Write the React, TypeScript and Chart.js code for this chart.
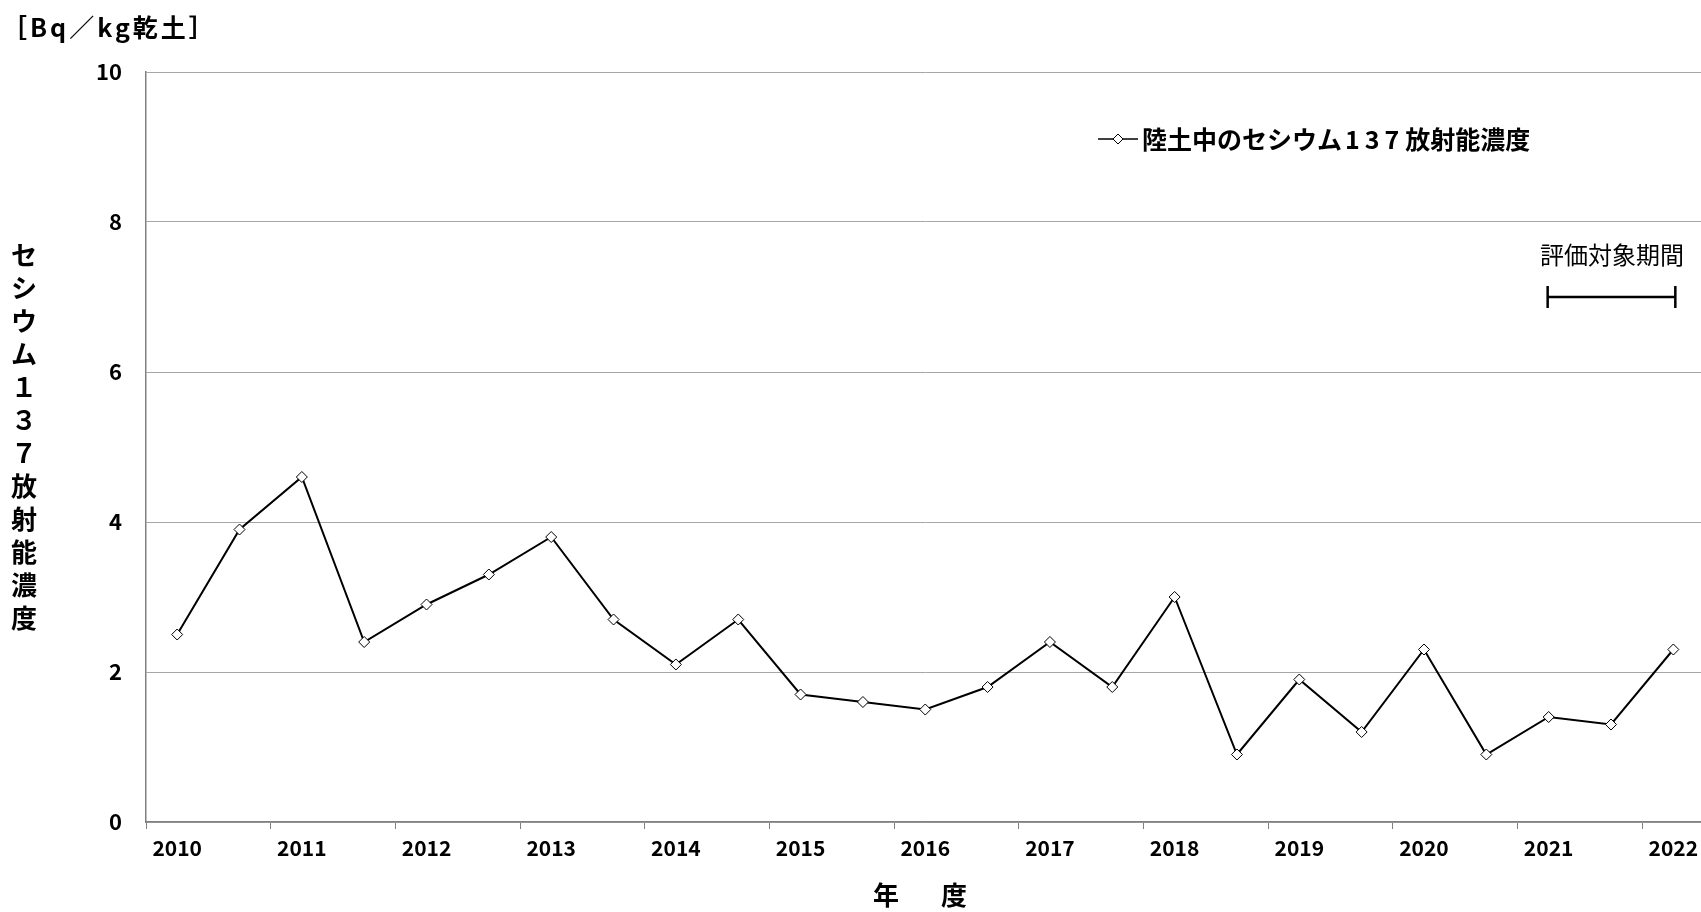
import React, { useEffect, useRef } from "react";
import { Chart, registerables } from "chart.js";

Chart.register(...registerables);

const categories = [
  "2010", "", "2011", "", "2012", "", "2013", "", "2014", "", "2015", "", "2016", "",
  "2017", "", "2018", "", "2019", "", "2020", "", "2021", "", "2022",
];
const cesiumValues = [
  2.5, 3.9, 4.6, 2.4, 2.9, 3.3, 3.8, 2.7, 2.1, 2.7, 1.7, 1.6, 1.5, 1.8, 2.4, 1.8, 3.0,
  0.9, 1.9, 1.2, 2.3, 0.9, 1.4, 1.3, 2.3,
];
const seriesLabel = "陸土中のセシウム137放射能濃度";
const legendParts = ["陸土中のセシウム", "137", "放射能濃度"];
const unitLabel = "［Bq／kg乾土］";
const yTitleChars = ["セ", "シ", "ウ", "ム", "１", "３", "７", "放", "射", "能", "濃", "度"];
const xTitleChars = ["年", "度"];
const periodLabel = "評価対象期間";
const periodStartIndex = 22;
const periodEndIndex = 24;
const periodLevel = 7;

const FONT = '"Noto Sans CJK JP", "Noto Sans", sans-serif';

const textPlugin = {
  id: "textPlugin",
  afterDraw(chart: any) {
    const ctx = chart.ctx;
    const xs = chart.scales.x;
    const ys = chart.scales.y;
    ctx.save();
    ctx.fillStyle = "#000";
    ctx.font = `bold 25px ${FONT}`;
    ctx.textAlign = "left";
    ctx.textBaseline = "middle";
    (ctx as any).letterSpacing = "3px";
    ctx.fillText(unitLabel, 2, 27);
    (ctx as any).letterSpacing = "0px";
    ctx.font = `bold 26px ${FONT}`;
    ctx.textAlign = "center";
    yTitleChars.forEach((c, i) => ctx.fillText(c, 24, 255 + i * 33));
    const cx = 920;
    ctx.fillText(xTitleChars[0], cx - 34, 895);
    ctx.fillText(xTitleChars[1], cx + 34, 895);
    const ly = 139;
    ctx.strokeStyle = "#000";
    ctx.lineWidth = 1.5;
    ctx.beginPath();
    ctx.moveTo(1098, ly);
    ctx.lineTo(1138, ly);
    ctx.stroke();
    ctx.beginPath();
    ctx.moveTo(1118, ly - 5);
    ctx.lineTo(1123, ly);
    ctx.lineTo(1118, ly + 5);
    ctx.lineTo(1113, ly);
    ctx.closePath();
    ctx.fillStyle = "#fff";
    ctx.fill();
    ctx.lineWidth = 1;
    ctx.stroke();
    ctx.fillStyle = "#000";
    ctx.font = `bold 25px ${FONT}`;
    ctx.textAlign = "left";
    let lx = 1142;
    ctx.fillText(legendParts[0], lx, ly);
    lx += ctx.measureText(legendParts[0]).width + 3;
    (ctx as any).letterSpacing = "5px";
    ctx.fillText(legendParts[1], lx, ly);
    lx += ctx.measureText(legendParts[1]).width + 1;
    (ctx as any).letterSpacing = "0px";
    ctx.fillText(legendParts[2], lx, ly);
    const x1 = xs.getPixelForValue(periodStartIndex);
    const x2 = xs.getPixelForValue(periodEndIndex);
    const by = ys.getPixelForValue(periodLevel);
    ctx.lineWidth = 2.5;
    ctx.beginPath();
    ctx.moveTo(x1 - 1, by);
    ctx.lineTo(x2 + 2, by);
    ctx.moveTo(x1 - 1, by - 11);
    ctx.lineTo(x1 - 1, by + 11);
    ctx.moveTo(x2 + 2, by - 11);
    ctx.lineTo(x2 + 2, by + 11);
    ctx.stroke();
    ctx.font = `24px ${FONT}`;
    ctx.textAlign = "center";
    ctx.fillText(periodLabel, (x1 + x2) / 2 + 1, by - 42);
    ctx.restore();
  },
};

export default function App() {
  const ref = useRef<HTMLCanvasElement>(null);
  useEffect(() => {
    if (!ref.current) return;
    const chart = new Chart(ref.current, {
      type: "line",
      data: {
        labels: categories,
        datasets: [
          {
            label: seriesLabel,
            data: cesiumValues,
            borderColor: "#000",
            borderWidth: 2,
            backgroundColor: "#fff",
            pointStyle: "rectRot",
            pointRadius: 5.5,
            pointBorderWidth: 1,
            pointBorderColor: "#000",
            pointBackgroundColor: "#fff",
            tension: 0,
          },
        ],
      },
      options: {
        responsive: false,
        animation: false,
        devicePixelRatio: 1,
        layout: { padding: { top: 72, left: 0, right: 0, bottom: 0 } },
        plugins: {
          legend: { display: false },
          tooltip: { enabled: false },
          title: { display: false },
        },
        scales: {
          x: {
            type: "category",
            offset: true,
            grid: {
              offset: true,
              drawOnChartArea: false,
              drawTicks: true,
              tickLength: 7,
              color: (c: any) => (c.index % 2 === 0 ? "#808080" : "rgba(0,0,0,0)"),
            },
            border: { display: true, color: "#808080", width: 1.5 },
            ticks: {
              autoSkip: false,
              maxRotation: 0,
              minRotation: 0,
              color: "#000",
              padding: 6,
              font: { family: FONT, size: 21, weight: "bold" },
            },
            afterFit: (s: any) => {
              s.height = 90;
              s.paddingLeft = 0;
              s.paddingRight = 0;
            },
          },
          y: {
            min: 0,
            max: 10,
            ticks: {
              stepSize: 2,
              color: "#000",
              padding: 24,
              font: { family: FONT, size: 22, weight: "bold" },
            },
            grid: { color: "#a6a6a6", drawTicks: false, lineWidth: 1 },
            border: { display: true, color: "#808080", width: 1.5 },
            afterFit: (s: any) => {
              s.width = 146;
              s.paddingTop = 0;
              s.paddingBottom = 0;
            },
          },
        },
      },
      plugins: [textPlugin],
    } as any);
    return () => chart.destroy();
  }, []);
  return (
    <div
      style={{
        position: "fixed",
        left: 0,
        top: 0,
        width: 1701,
        height: 912,
        overflow: "hidden",
        background: "#fff",
      }}
    >
      <canvas ref={ref} width={1711} height={912} style={{ display: "block" }} />
    </div>
  );
}
